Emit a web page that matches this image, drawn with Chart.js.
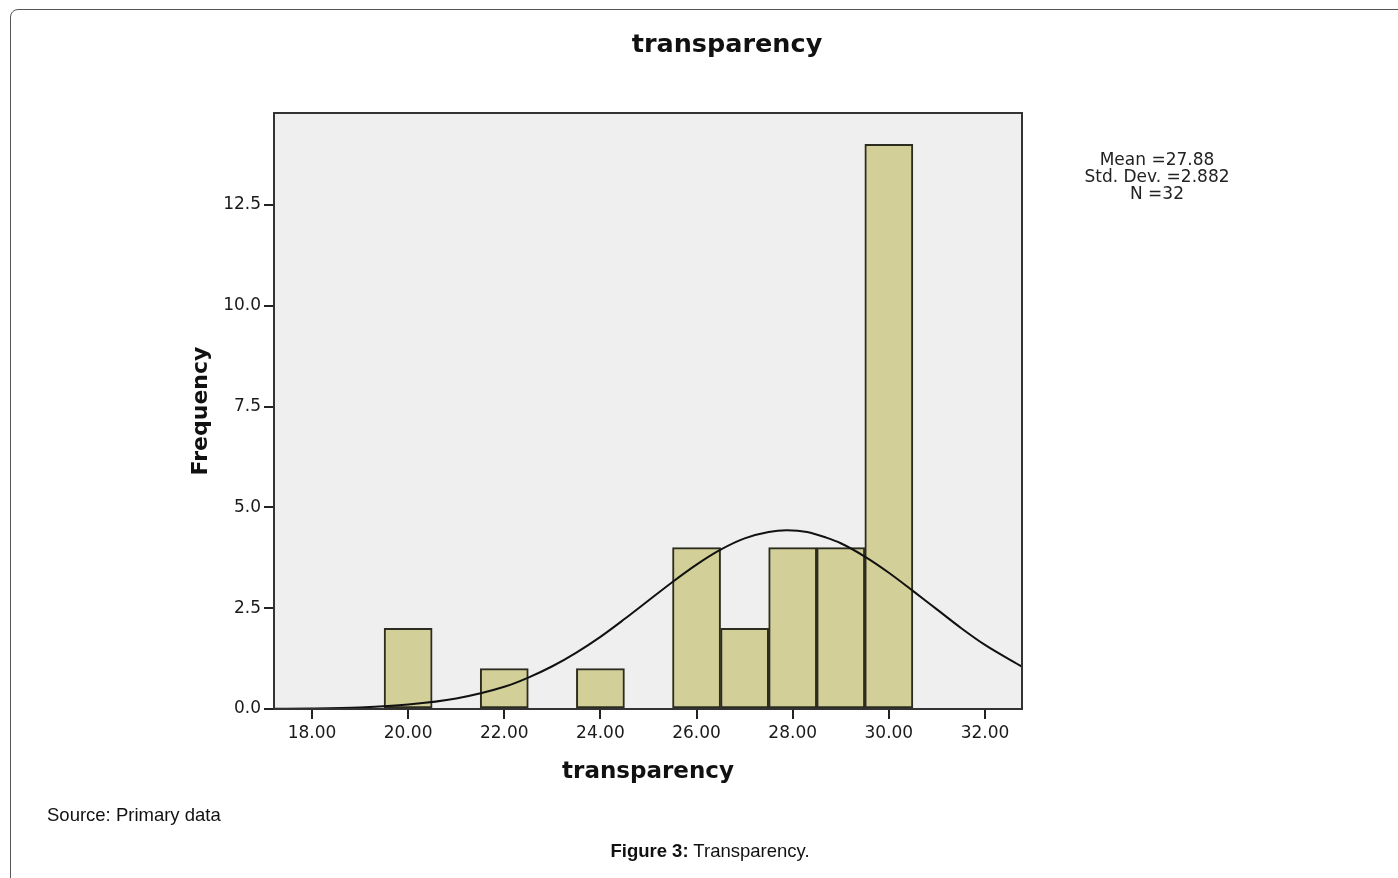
<!DOCTYPE html>
<html>
<head>
<meta charset="utf-8">
<script src="https://cdn.jsdelivr.net/npm/chart.js@4.4.1/dist/chart.umd.min.js"></script>
<style>
  body { margin: 0; width: 1398px; height: 878px; overflow: hidden; background: #fff; position: relative; }
  #frame { position: absolute; left: 10px; top: 9px; width: 1500px; height: 1000px; border: 1.5px solid #555; border-radius: 8px; }
  #graphCanvas { position: absolute; left: 0; top: 0; }
  .txt { position: absolute; white-space: nowrap; color: #111; }
  #chartTitle { left: 727px; top: 28px; transform: translateX(-50%); font: bold 25.5px "DejaVu Sans"; line-height: 30px; }
  #stats { left: 1057px; top: 151px; width: 200px; text-align: center; font: 17px "DejaVu Sans"; line-height: 17px; color: #222; }
  #source { left: 47px; top: 805px; font: 18.5px "Liberation Sans", Arial; line-height: 20px; }
  #caption { left: 710px; top: 841px; transform: translateX(-50%); font: 18.5px "Liberation Sans", Arial; line-height: 20px; }
</style>
</head>
<body>
<div id="frame"></div>
<canvas id="graphCanvas" width="1398" height="878"></canvas>
<div class="txt" id="chartTitle">transparency</div>
<div class="txt" id="stats">Mean =27.88<br>Std. Dev. =2.882<br>N =32</div>
<div class="txt" id="source">Source: Primary data</div>
<div class="txt" id="caption"><b>Figure 3:</b> Transparency.</div>
<script>
// histogram bins (bin centre) and counts
const binCenters = [20, 22, 24, 26, 27, 28, 29, 30];
const binCounts = [2, 1, 1, 4, 2, 4, 4, 14];

// normal curve
const curveX = [17.21, 18, 19, 20, 21, 22, 22.5, 23, 23.5, 24, 24.5, 25, 25.5, 26, 26.5, 27, 27.5, 27.88, 28.3, 28.7, 29, 29.5, 30, 30.5, 31, 31.5, 32, 32.77];
const curveY = [0.005, 0.012, 0.04, 0.11, 0.26, 0.55, 0.78, 1.06, 1.40, 1.79, 2.23, 2.69, 3.15, 3.58, 3.95, 4.23, 4.39, 4.43, 4.39, 4.25, 4.11, 3.78, 3.38, 2.93, 2.47, 2.01, 1.59, 1.05];

const xMin = 17.21, xMax = 32.77;
const yMin = 0, yMax = 14.78;

const plotFrame = {
    id: 'plotFrame',
    beforeDatasetsDraw(chart) {
        const a = chart.chartArea, ctx = chart.ctx;
        ctx.save();
        ctx.fillStyle = '#efefef';
        ctx.fillRect(a.left, a.top, a.right - a.left, a.bottom - a.top);
        ctx.restore();
    },
    afterDatasetsDraw(chart) {
        const a = chart.chartArea, ctx = chart.ctx;
        ctx.save();
        ctx.strokeStyle = '#333';
        ctx.lineWidth = 2;
        ctx.strokeRect(a.left, a.top, a.right - a.left, a.bottom - a.top);
        ctx.restore();
    }
};

const ctx = document.getElementById('graphCanvas').getContext('2d');
new Chart(ctx, {
    type: 'bar',
    data: {
        datasets: [{
            type: 'line',
            data: curveX.map((x, i) => ({ x: x, y: curveY[i] })),
            borderColor: '#111',
            borderWidth: 2,
            pointRadius: 0,
            cubicInterpolationMode: 'monotone',
            order: 0
        }, {
            type: 'bar',
            data: binCenters.map((x, i) => ({ x: x, y: binCounts[i] })),
            backgroundColor: '#d3cf98',
            borderColor: '#2c2c20',
            borderWidth: 2,
            borderSkipped: false,
            barPercentage: 1,
            categoryPercentage: 1,
            order: 1
        }]
    },
    options: {
        responsive: false,
        animation: false,
        layout: { padding: { left: 174, top: 113, right: 376, bottom: 89 } },
        plugins: { legend: { display: false }, tooltip: { enabled: false }, title: { display: false } },
        scales: {
            x: {
                type: 'linear',
                position: 'bottom',
                min: xMin,
                max: xMax,
                offset: false,
                afterFit: s => { s.height = 80; },
                grid: { offset: false, drawOnChartArea: false, tickLength: 10, color: '#222', lineWidth: 2 },
                border: { display: false },
                ticks: {
                    stepSize: 2,
                    includeBounds: false,
                    padding: 4,
                    color: '#1a1a1a',
                    font: { family: 'DejaVu Sans', size: 17 },
                    callback: v => v.toFixed(2)
                },
                title: {
                    display: true,
                    text: 'transparency',
                    color: '#111',
                    font: { family: 'DejaVu Sans', size: 23, weight: 'bold' },
                    padding: { top: 0, bottom: 3 }
                }
            },
            y: {
                type: 'linear',
                min: yMin,
                max: yMax,
                afterFit: s => { s.width = 100; },
                grid: { drawOnChartArea: false, tickLength: 10, color: '#222', lineWidth: 2 },
                border: { display: false },
                ticks: {
                    stepSize: 2.5,
                    includeBounds: false,
                    padding: 3,
                    color: '#1a1a1a',
                    font: { family: 'DejaVu Sans', size: 17 },
                    callback: v => v.toFixed(1)
                },
                title: {
                    display: true,
                    text: 'Frequency',
                    color: '#111',
                    font: { family: 'DejaVu Sans', size: 22, weight: 'bold' },
                    padding: { top: 14, bottom: 0 }
                }
            }
        }
    },
    plugins: [plotFrame]
});
</script>
</body>
</html>
